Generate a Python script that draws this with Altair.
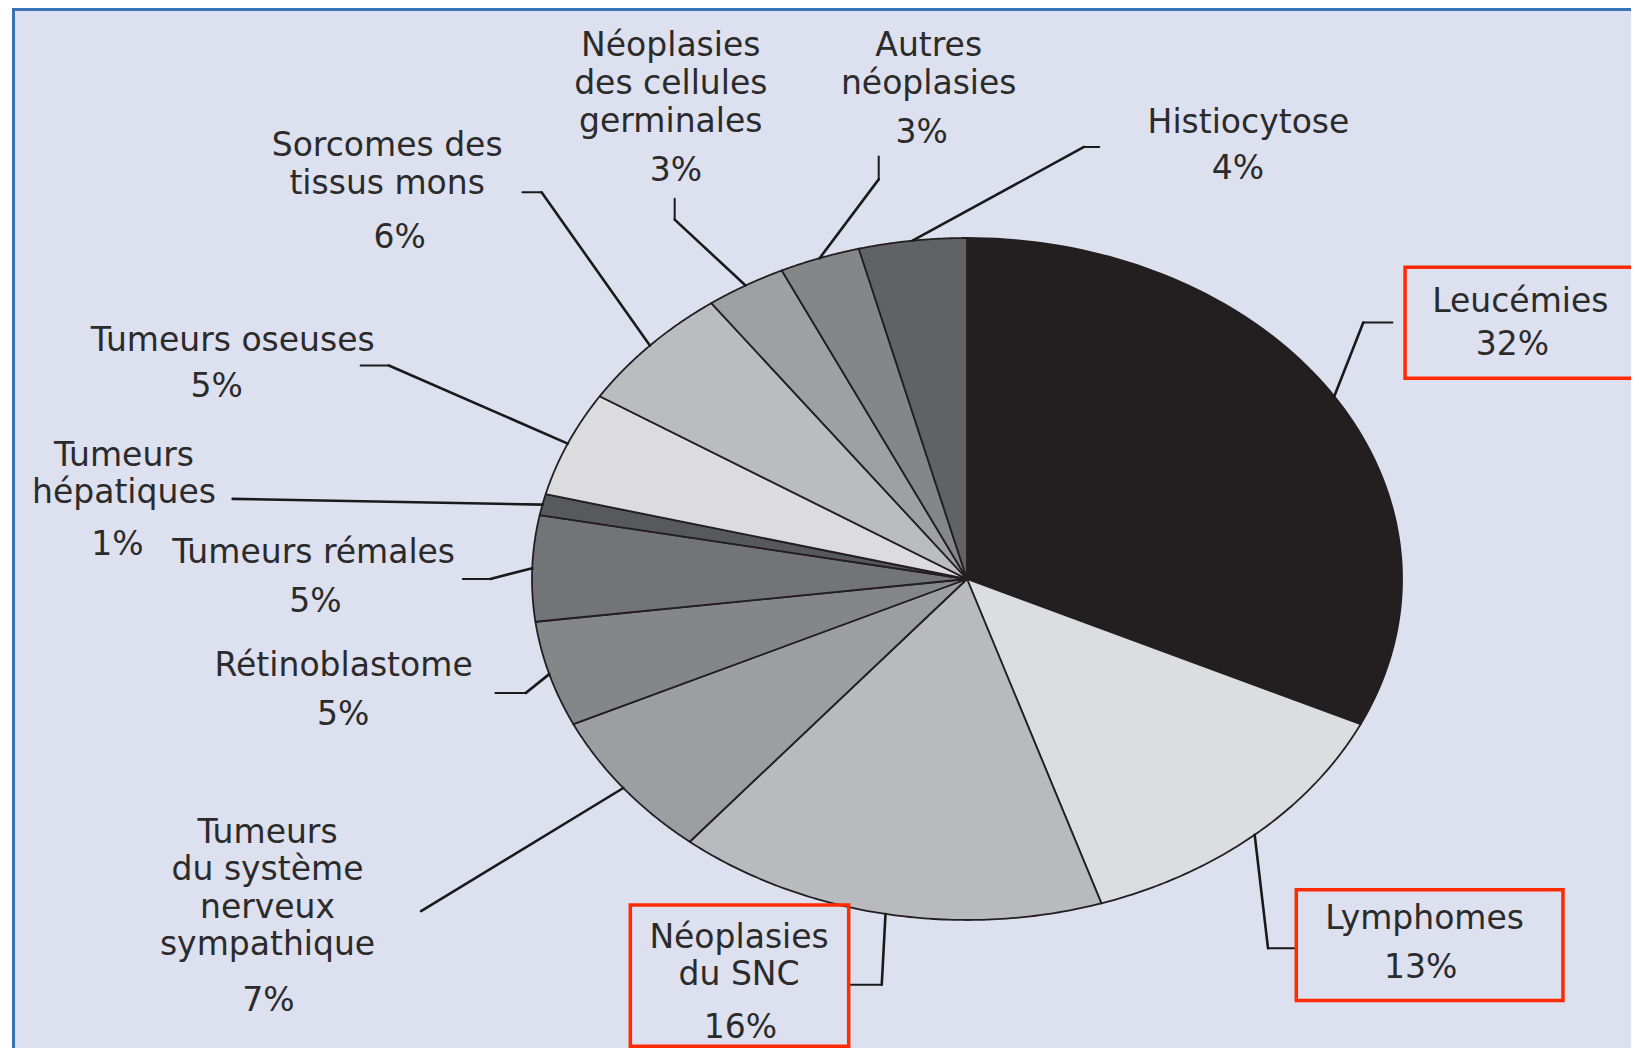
import altair as alt
import pandas as pd

# ---------------- data ----------------
categories = [
    "Leucémies", "Lymphomes", "Néoplasies du SNC",
    "Tumeurs du système nerveux sympathique", "Rétinoblastome",
    "Tumeurs rémales", "Tumeurs hépatiques", "Tumeurs oseuses",
    "Sorcomes des tissus mons", "Néoplasies des cellules germinales",
    "Autres néoplasies", "Histiocytose",
]
values = [32, 13, 16, 7, 5, 5, 1, 5, 6, 3, 3, 4]
label_text = [
    "Leucémies", "Lymphomes", "Néoplasies\ndu SNC",
    "Tumeurs\ndu système\nnerveux\nsympathique", "Rétinoblastome",
    "Tumeurs rémales", "Tumeurs\nhépatiques", "Tumeurs oseuses",
    "Sorcomes des\ntissus mons", "Néoplasies\ndes cellules\ngerminales",
    "Autres\nnéoplasies", "Histiocytose",
]
boxed = ["Leucémies", "Lymphomes", "Néoplasies du SNC"]

# ---------------- styles ----------------
fills = ["#231f20", "#dcdde0", "#b9babd", "#9d9ea1", "#858689", "#737477",
         "#58595b", "#dcdcdf", "#bbbcbf", "#9fa0a3", "#858689", "#616264"]

# ---------------- layout (pie units: horizontal radius = 1, vertical radius = 1) ----------------
# name_y is the centre of the first line of each label
name_x = [1.272, 1.052, -0.524, -1.608, -1.433, -1.502, -1.938, -1.688, -1.333, -0.681, -0.088, 0.647]
name_y = [0.813, -0.998, -1.052, -0.744, -0.256, 0.075, 0.361, 0.697, 1.269, 1.562, 1.562, 1.336]
pct_x = [1.254, 1.043, -0.521, -1.606, -1.434, -1.498, -1.953, -1.725, -1.304, -0.669, -0.104, 0.623]
pct_y = [0.687, -1.141, -1.316, -1.238, -0.399, -0.067, 0.099, 0.564, 1.000, 1.196, 1.308, 1.201]
elbow_x = [0.911, 0.692, -0.196, -1.255, -1.014, -1.096, -1.688, -1.329, -0.978, -0.672, -0.203, 0.269]
elbow_y = [0.752, -1.083, -1.190, -0.974, -0.334, 0.000, 0.235, 0.626, 1.134, 1.054, 1.172, 1.267]
end_x = [0.978, 0.757, -0.267, -1.255, -1.084, -1.159, -1.688, -1.394, -1.022, -0.672, -0.203, 0.304]
end_y = [0.752, -1.083, -1.190, -0.974, -0.334, 0.000, 0.235, 0.626, 1.134, 1.115, 1.239, 1.267]
box_x1 = [1.007, 0.757, -0.774]
box_x2 = [1.560, 1.370, -0.272]
box_y1 = [0.589, -1.236, -1.370]
box_y2 = [0.914, -0.911, -0.956]

W, H = 1619, 1040
X_DOMAIN = [-2.1954, 1.5264]
Y_DOMAIN = [-1.3754, 1.6745]
N_STEPS = 90
FONT = "DejaVu Sans"
FONT_SIZE = 33
LINE_H = 37.6

xs = alt.Scale(domain=X_DOMAIN, nice=False, zero=False)
ys = alt.Scale(domain=Y_DOMAIN, nice=False, zero=False)
fill_scale = alt.Scale(domain=categories, range=fills)

base = pd.DataFrame({
    "categorie": categories,
    "valeur": values,
    "ordre": list(range(len(categories))),
    "texte": label_text,
    "nom_x": name_x, "nom_y": name_y,
    "pct_x": pct_x, "pct_y": pct_y,
    "coude_x": elbow_x, "coude_y": elbow_y,
    "fin_x": end_x, "fin_y": end_y,
})

slices_df = base[["categorie", "valeur", "ordre"]].copy()
slices_df["pas"] = [list(range(-1, N_STEPS + 1)) for _ in categories]

boxes_df = pd.DataFrame({"categorie": boxed, "x1": box_x1, "x2": box_x2,
                         "y1": box_y1, "y2": box_y2})

INK = "#231f20"
TEXT = "#2b2b2b"

# ---------------- pie slices (elliptical) ----------------
slices = (
    alt.Chart(slices_df)
    .transform_joinaggregate(total="sum(valeur)")
    .transform_window(cumul="sum(valeur)", sort=[alt.SortField("ordre")])
    .transform_flatten(["pas"])
    .transform_calculate(
        a0="(datum.cumul - datum.valeur) / datum.total * 2 * PI",
        a1="datum.cumul / datum.total * 2 * PI",
        ang=f"datum.a0 + (datum.a1 - datum.a0) * max(datum.pas, 0) / {N_STEPS}",
        px="datum.pas < 0 ? 0 : sin(datum.ang)",
        py="datum.pas < 0 ? 0 : cos(datum.ang)",
    )
    .mark_line(interpolate="linear-closed", stroke=INK, strokeWidth=1.8,
               strokeJoin="round")
    .encode(
        x=alt.X("px:Q", scale=xs, axis=None),
        y=alt.Y("py:Q", scale=ys, axis=None),
        fill=alt.Fill("categorie:N", scale=fill_scale, legend=None),
        detail="categorie:N",
        order=alt.Order("pas:Q"),
    )
)

# ---------------- leader lines ----------------
leader_base = (
    alt.Chart(base)
    .transform_joinaggregate(total="sum(valeur)")
    .transform_window(cumul="sum(valeur)", sort=[alt.SortField("ordre")])
    .transform_calculate(
        mid="(datum.cumul - datum.valeur / 2) / datum.total * 2 * PI",
        ex="sin(datum.mid)",
        ey="cos(datum.mid)",
    )
)
seg1 = leader_base.mark_rule(color="#1a1a1a", strokeWidth=2.6, strokeCap="round").encode(
    x=alt.X("ex:Q", scale=xs, axis=None),
    y=alt.Y("ey:Q", scale=ys, axis=None),
    x2="coude_x:Q",
    y2="coude_y:Q",
)
seg2 = alt.Chart(base).mark_rule(color="#1a1a1a", strokeWidth=2.0, strokeCap="round").encode(
    x=alt.X("coude_x:Q", scale=xs, axis=None),
    y=alt.Y("coude_y:Q", scale=ys, axis=None),
    x2="fin_x:Q",
    y2="fin_y:Q",
)

# ---------------- highlight boxes ----------------
boxes = alt.Chart(boxes_df).mark_rect(fill="transparent", stroke="#ff2a00",
                                      strokeWidth=3.5).encode(
    x=alt.X("x1:Q", scale=xs, axis=None),
    x2="x2:Q",
    y=alt.Y("y1:Q", scale=ys, axis=None),
    y2="y2:Q",
)

# ---------------- labels ----------------
names = alt.Chart(base).mark_text(
    font=FONT, fontSize=FONT_SIZE, color=TEXT, align="center",
    baseline="middle", lineBreak="\n", lineHeight=LINE_H,
).encode(
    x=alt.X("nom_x:Q", scale=xs, axis=None),
    y=alt.Y("nom_y:Q", scale=ys, axis=None),
    text="texte:N",
)
pcts = alt.Chart(base).transform_calculate(
    pct="datum.valeur + '%'"
).mark_text(
    font=FONT, fontSize=FONT_SIZE, color=TEXT, align="center", baseline="middle",
).encode(
    x=alt.X("pct_x:Q", scale=xs, axis=None),
    y=alt.Y("pct_y:Q", scale=ys, axis=None),
    text="pct:N",
)

# ---------------- panel frame (left and top edges) ----------------
frame_df = pd.DataFrame({"bord": ["cadre"]})
border_left = alt.Chart(frame_df).mark_rule(color="#3a72b8", strokeWidth=3).encode(
    x=alt.value(1.5), y=alt.value(0), y2=alt.value(H)
)
border_top = alt.Chart(frame_df).mark_rule(color="#3a72b8", strokeWidth=3).encode(
    y=alt.value(1.5), x=alt.value(0), x2=alt.value(W)
)

chart = (
    alt.layer(slices, seg1, seg2, boxes, names, pcts, border_left, border_top)
    .properties(width=W, height=H, autosize="none", background="white",
                padding={"left": 4, "top": 0, "right": 0, "bottom": 0})
    .configure_view(fill="#dde0ef", stroke="transparent")
)

chart.save("out.html", embed_options={"renderer": "svg", "actions": False})
